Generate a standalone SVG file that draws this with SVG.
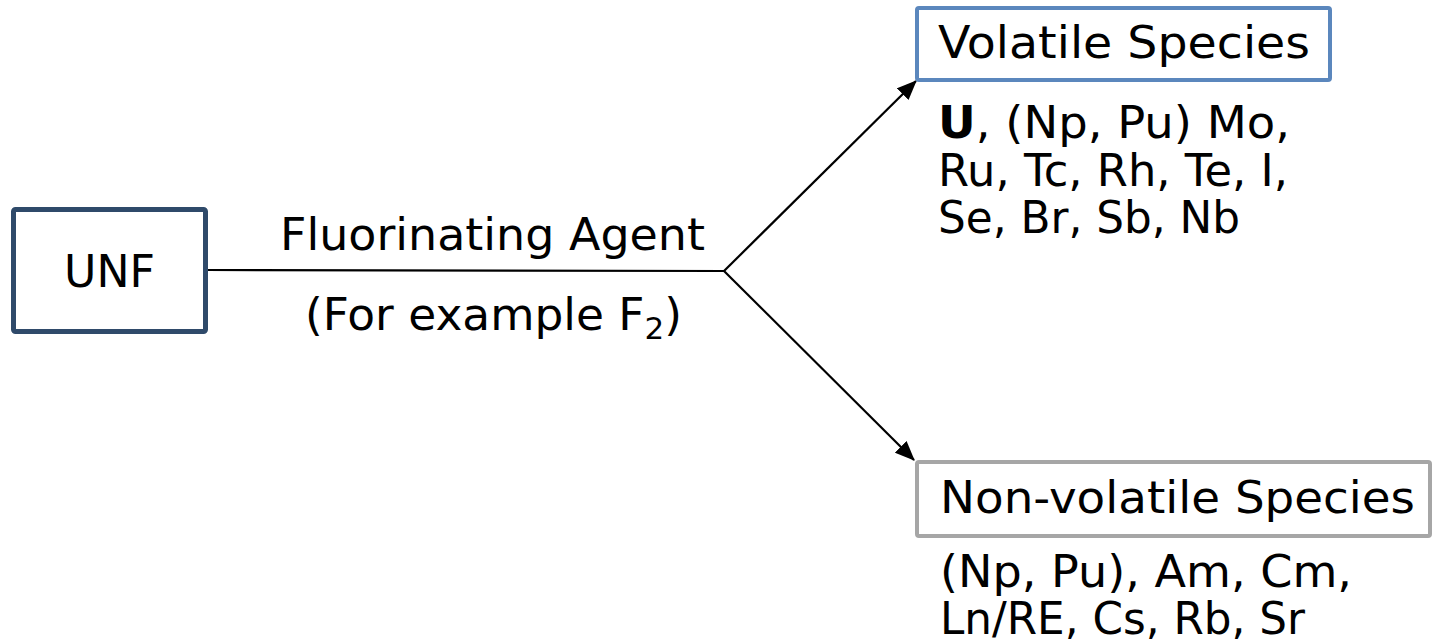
<svg xmlns="http://www.w3.org/2000/svg" width="1437" height="643" viewBox="0 0 1437 643">
<style>
text{font-family:"DejaVu Sans","Liberation Sans",sans-serif;fill:#000;font-size:44px}
.box{fill:#fff}
.conn{stroke:#000;stroke-width:2.2;fill:none}
</style>
<defs>
<marker id="arr" markerWidth="9" markerHeight="7.5" refX="8.5" refY="3.75" orient="auto" markerUnits="strokeWidth">
<path d="M0,0 L9,3.75 L0,7.5 Z" fill="#000"/>
</marker>
</defs>
<rect width="1437" height="643" fill="#fff"/>
<g id="connectors">
<line class="conn" x1="208" y1="270" x2="724" y2="271"/>
<line class="conn" x1="724" y1="271" x2="916" y2="81" marker-end="url(#arr)"/>
<line class="conn" x1="724" y1="271" x2="914" y2="460" marker-end="url(#arr)"/>
<text x="280" y="250" textLength="425" lengthAdjust="spacingAndGlyphs">Fluorinating Agent</text>
<text x="305" y="330" textLength="377" lengthAdjust="spacingAndGlyphs">(For example F<tspan font-size="30" baseline-shift="-9">2</tspan>)</text>
</g>
<g id="unf">
<rect class="box" x="13.5" y="209.5" width="192" height="122" rx="2" stroke="#2F4A6A" stroke-width="5"/>
<text x="64" y="287" textLength="91" lengthAdjust="spacingAndGlyphs">UNF</text>
</g>
<g id="volatile">
<rect class="box" x="917" y="8" width="413" height="72" rx="2" stroke="#5B87BD" stroke-width="4"/>
<text x="938" y="58" textLength="372" lengthAdjust="spacingAndGlyphs">Volatile Species</text>
<text x="938" y="138" textLength="352" lengthAdjust="spacingAndGlyphs"><tspan font-weight="bold">U</tspan>, (Np, Pu) Mo,</text>
<text x="938" y="186" textLength="350" lengthAdjust="spacingAndGlyphs">Ru, Tc, Rh, Te, I,</text>
<text x="938" y="233" textLength="302" lengthAdjust="spacingAndGlyphs">Se, Br, Sb, Nb</text>
</g>
<g id="nonvolatile">
<rect class="box" x="917" y="462" width="513" height="74" rx="2" stroke="#A6A6A6" stroke-width="4"/>
<text x="940" y="513" textLength="475" lengthAdjust="spacingAndGlyphs">Non-volatile Species</text>
<text x="940" y="587" textLength="412" lengthAdjust="spacingAndGlyphs">(Np, Pu), Am, Cm,</text>
<text x="940" y="634" textLength="365" lengthAdjust="spacingAndGlyphs">Ln/RE, Cs, Rb, Sr</text>
</g>
</svg>
